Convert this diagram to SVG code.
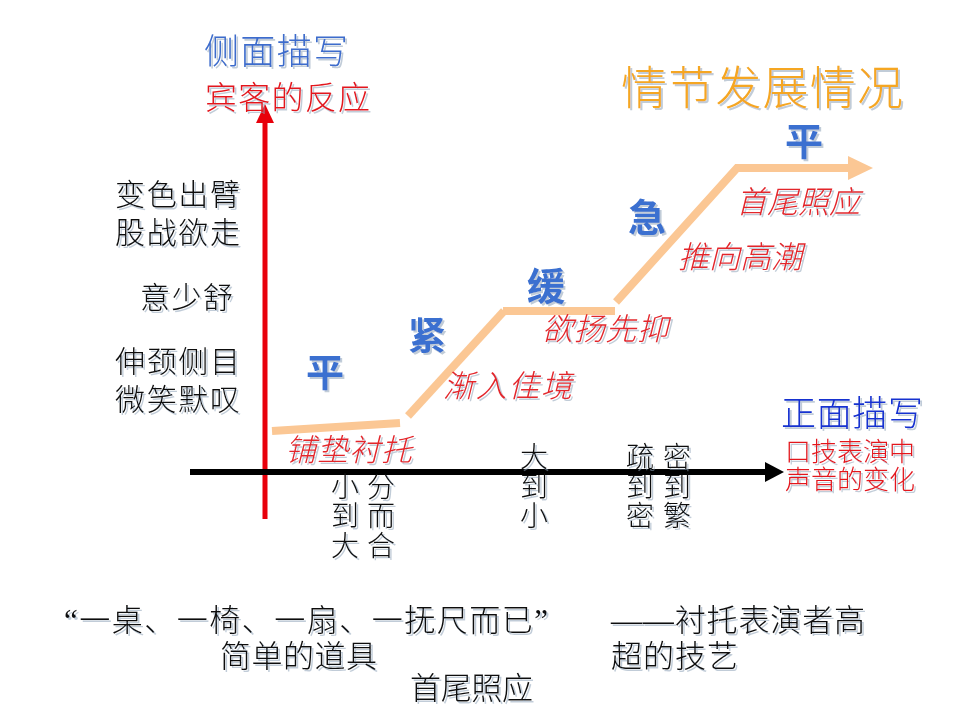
<svg xmlns="http://www.w3.org/2000/svg" width="960" height="720" viewBox="0 0 960 720">
<defs>
<filter id="sh" x="-10%" y="-20%" width="130%" height="150%">
<feDropShadow dx="2" dy="2" stdDeviation="0.6" flood-color="#8fa3b8" flood-opacity="0.55"/>
</filter>
</defs>
<style>
text{font-family:"Liberation Serif","Noto Sans CJK SC",serif;filter:url(#sh);font-weight:300;}
.blk{fill:#111;font-size:30px;}
.ax{fill:#111;font-size:28px;}
.red{fill:#e3262b;font-size:31px;font-style:italic;}
.cal{fill:#3a6fd0;font-size:38px;font-weight:bold;}
.bot{fill:#111;font-size:31px;}
.org{stroke:#fbc794;stroke-width:8;fill:none;}
</style>
<rect width="960" height="720" fill="#fff"/>
<g id="connectors">
<line x1="265" y1="519" x2="265" y2="120" stroke="#e8000b" stroke-width="5"/>
<polygon points="256,123 265,104 274,123" fill="#e8000b"/>
<line x1="190" y1="472" x2="767" y2="472" stroke="#000" stroke-width="6"/>
<polygon points="765,462 784,472 765,482" fill="#000"/>
<line class="org" x1="272" y1="431" x2="400" y2="423"/>
<line class="org" x1="408" y1="416" x2="504" y2="311"/>
<line class="org" x1="503" y1="311" x2="615" y2="311"/>
<polyline class="org" points="616,302 737,168 850,168" stroke-linejoin="miter"/>
<polygon points="848,156 873,168 848,180" fill="#fbc794"/>
</g>
<g id="y-axis-label">
<text x="204" y="64" textLength="144" style="fill:#3d6ccc;font-size:35px;">侧面描写</text>
<text x="205" y="109" textLength="165" style="fill:#e3181f;font-size:32px;">宾客的反应</text>
</g>
<g id="title">
<text x="621" y="104" textLength="282" style="fill:#f5a623;font-size:46px;">情节发展情况</text>
</g>
<g id="x-axis-label">
<text x="781" y="426" textLength="142" style="fill:#1530d0;font-size:35px;">正面描写</text>
<text x="785" y="461" textLength="130" style="fill:#e3181f;font-size:26px;">口技表演中</text>
<text x="785" y="489" textLength="130" style="fill:#e3181f;font-size:26px;">声音的变化</text>
</g>
<g id="reactions">
<text class="blk" x="115" y="205" textLength="125">变色出臂</text>
<text class="blk" x="115" y="243" textLength="125">股战欲走</text>
<text class="blk" x="140" y="308" textLength="93">意少舒</text>
<text class="blk" x="115" y="372" textLength="125">伸颈侧目</text>
<text class="blk" x="115" y="410" textLength="125">微笑默叹</text>
</g>
<g id="stage1">
<text class="cal" x="306" y="386">平</text>
<text class="red" x="285" y="461" textLength="127">铺垫衬托</text>
<text class="ax" x="331" y="497">小</text><text class="ax" x="367" y="497">分</text>
<text class="ax" x="331" y="526">到</text><text class="ax" x="367" y="526">而</text>
<text class="ax" x="331" y="556">大</text><text class="ax" x="367" y="556">合</text>
</g>
<g id="stage2">
<text class="cal" x="408" y="349">紧</text>
<text class="red" x="443" y="397" textLength="129">渐入佳境</text>
<text class="ax" x="520" y="467">大</text>
<text class="ax" x="520" y="497">到</text>
<text class="ax" x="520" y="526">小</text>
</g>
<g id="stage3">
<text class="cal" x="527" y="300">缓</text>
<text class="red" x="542" y="340" textLength="126">欲扬先抑</text>
<text class="ax" x="626" y="467">疏</text><text class="ax" x="663" y="467">密</text>
<text class="ax" x="626" y="497">到</text><text class="ax" x="663" y="497">到</text>
<text class="ax" x="626" y="526">密</text><text class="ax" x="663" y="526">繁</text>
</g>
<g id="stage4">
<text class="cal" x="628" y="231">急</text>
<text class="red" x="678" y="268" textLength="124">推向高潮</text>
</g>
<g id="stage5">
<text class="cal" x="785" y="155">平</text>
<text class="red" x="736" y="213" textLength="124">首尾照应</text>
</g>
<g id="notes">
<text class="bot" x="64" y="631" textLength="484">“一桌、一椅、一扇、一抚尺而已”</text>
<text class="bot" x="220" y="667" textLength="157">简单的道具</text>
<text class="bot" x="410" y="699" textLength="123">首尾照应</text>
<text class="bot" x="611" y="631" textLength="254">——衬托表演者高</text>
<text class="bot" x="611" y="667" textLength="127">超的技艺</text>
</g>
</svg>
